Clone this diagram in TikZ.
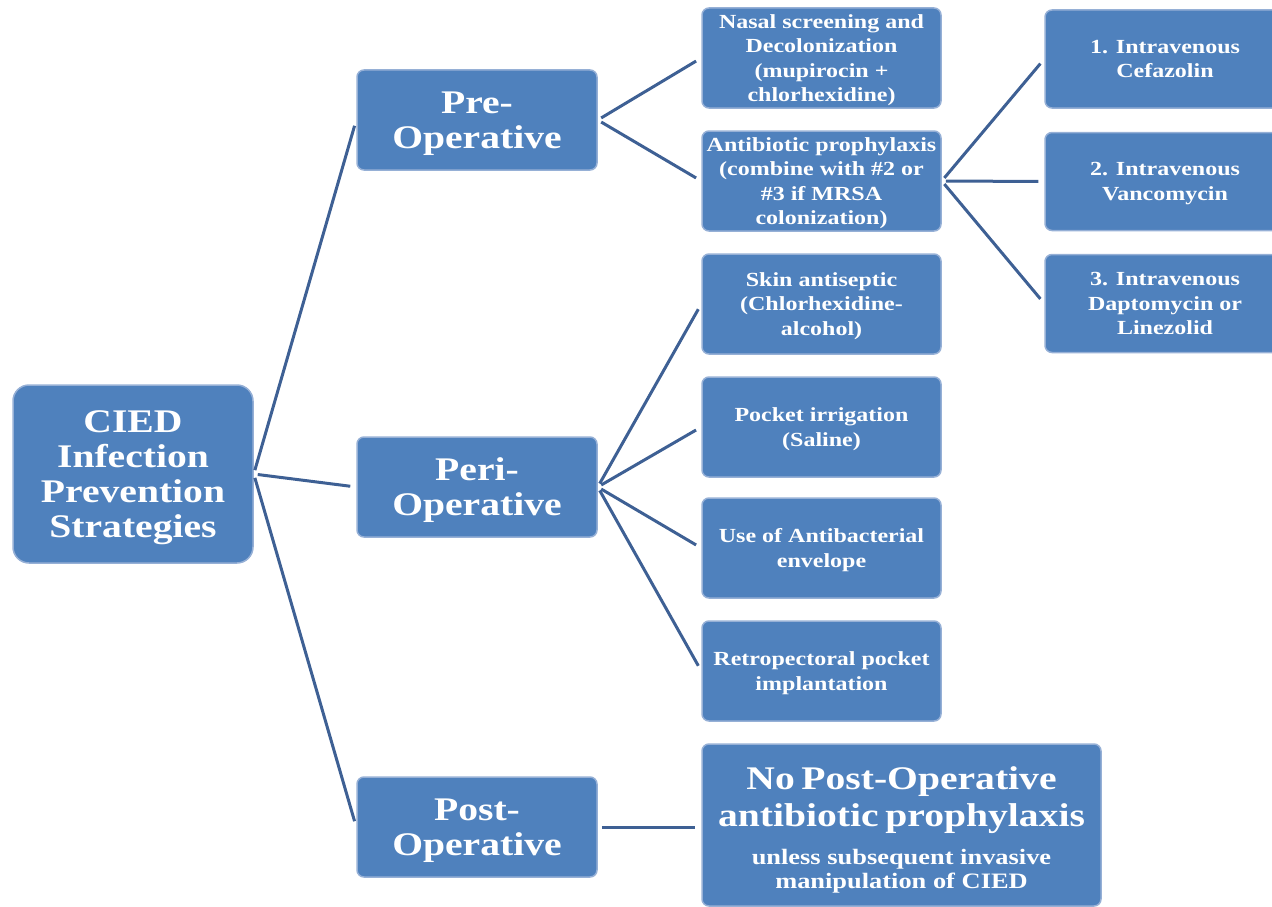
\documentclass[tikz,border=0pt]{standalone}
\usepackage{fontspec}
\setmainfont{Liberation Serif}[FakeStretch=1.2]
\definecolor{boxfill}{RGB}{79,129,189}
\definecolor{boxline}{RGB}{150,176,214}
\definecolor{linkc}{RGB}{62,96,148}
\newcommand\mybig{\fontsize{33}{35}\selectfont\bfseries}
\newcommand\mysmall{\fontsize{20}{24.5}\selectfont\bfseries}
\newcommand\mynote{\fontsize{22}{24}\selectfont\bfseries}
\tikzset{
  box/.style={draw=boxline, line width=1.5pt, fill=boxfill, rounded corners=7pt,
    text=white, align=center, inner sep=0pt, minimum width=239pt, minimum height=100pt,
    font=\mysmall, text depth=0pt},
  bigbox/.style={box, font=\mybig},
  drugbox/.style={box, minimum width=240pt, minimum height=98pt},
  link/.style={draw=linkc, line width=3pt, shorten <=4pt, shorten >=6pt}
}
\begin{document}
\begin{tikzpicture}[x=1pt,y=-1pt]
\useasboundingbox (0,0) rectangle (1272,907);
\node[bigbox, minimum width=240pt, minimum height=178pt, rounded corners=16pt] (root) at (133,474)
  {CIED\\Infection\\Prevention\\Strategies};
\node[bigbox, minimum width=240pt] (pre) at (477,120) {Pre-\\Operative};
\node[bigbox, minimum width=240pt] (peri) at (477,487) {Peri-\\Operative};
\node[bigbox, minimum width=240pt] (post) at (477,827) {Post-\\Operative};

\node[box] (nasal) at (821.5,58) {Nasal screening and\\Decolonization\\(mupirocin +\\chlorhexidine)};
\node[box] (anti) at (821.5,181) {Antibiotic prophylaxis\\(combine with \#2 or\\\#3 if MRSA\\colonization)};
\node[box] (skin) at (821.5,304) {Skin antiseptic\\(Chlorhexidine-\\alcohol)};
\node[box] (pocket) at (821.5,427) {Pocket irrigation\\(Saline)};
\node[box] (env) at (821.5,548) {Use of Antibacterial\\envelope};
\node[box] (retro) at (821.5,671) {Retropectoral pocket\\implantation};
\node[box, minimum width=399pt, minimum height=162pt, text width=395pt, text depth=] (nopost) at (901.5,825)
  {\fontsize{33}{37}\selectfont\bfseries\rule{0pt}{33pt}No Post-Operative\\antibiotic prophylaxis\par\mynote\vspace{14pt}unless subsequent invasive\\manipulation of CIED};

\node[drugbox] (d1) at (1165,59) {1. Intravenous\\Cefazolin};
\node[drugbox] (d2) at (1165,181.5) {2. Intravenous\\Vancomycin};
\node[drugbox] (d3) at (1165,303.5) {3. Intravenous\\Daptomycin or\\Linezolid};

\draw[link] (root.east) -- (pre.west);
\draw[link] (root.east) -- (peri.west);
\draw[link] (root.east) -- (post.west);
\draw[link] (pre.east) -- (nasal.west);
\draw[link] (pre.east) -- (anti.west);
\draw[link] (peri.east) -- (skin.west);
\draw[link] (peri.east) -- (pocket.west);
\draw[link] (peri.east) -- (env.west);
\draw[link] (peri.east) -- (retro.west);
\draw[link] (post.east) -- (post.east -| nopost.west);
\draw[link] (anti.east) -- (d1.west);
\draw[link] (anti.east) -- (d2.west);
\draw[link] (anti.east) -- (d3.west);
\end{tikzpicture}
\end{document}
